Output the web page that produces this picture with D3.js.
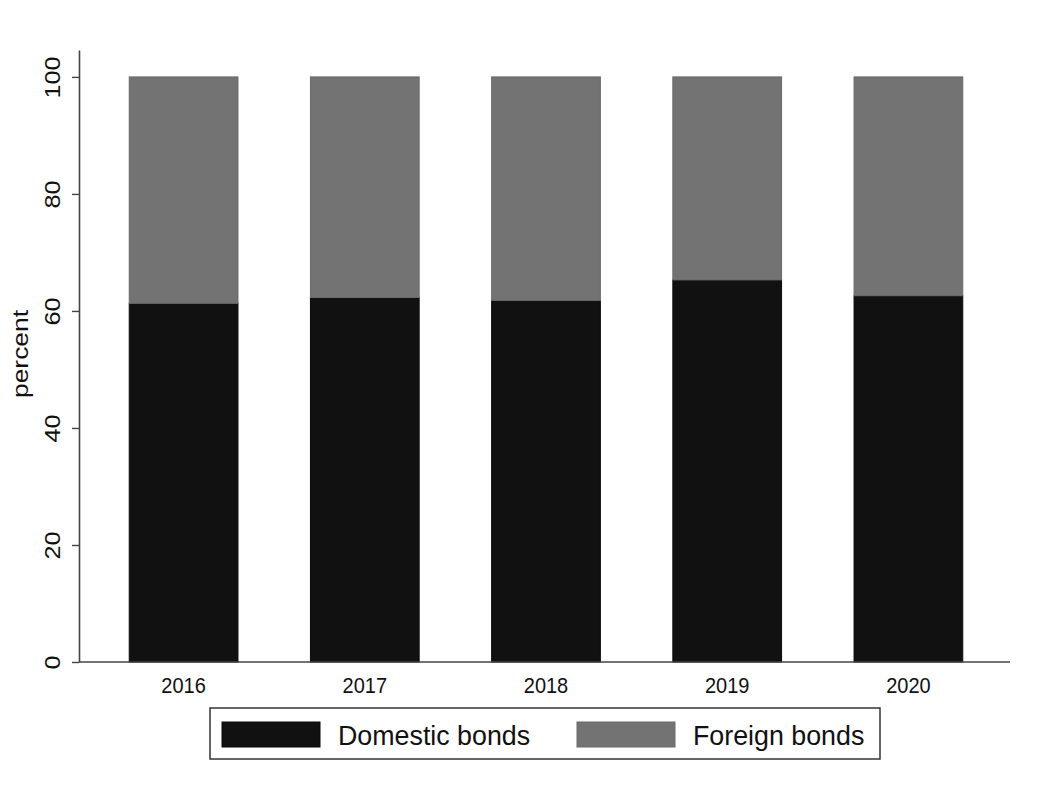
<!DOCTYPE html>
<html>
<head>
<meta charset="utf-8">
<script src="https://cdn.jsdelivr.net/npm/d3@7"></script>
<style>
  html, body { margin: 0; padding: 0; background: #fff; }
  svg { display: block; font-family: "Liberation Sans", Arial, sans-serif; }
</style>
</head>
<body>
<svg id="chart" width="1038" height="799"></svg>
<script>
const years = ["2016", "2017", "2018", "2019", "2020"];
const domestic = [61.3, 62.3, 61.8, 65.3, 62.6];
const foreign = domestic.map(d => +(100 - d).toFixed(1));
const seriesNames = ["Domestic bonds", "Foreign bonds"];
const seriesColors = ["#111111", "#737373"];
const yTicks = [0, 20, 40, 60, 80, 100];

const svg = d3.select("#chart");
svg.append("rect").attr("width", 1038).attr("height", 799).attr("fill", "#fff");

const x = d3.scaleBand().domain(years).range([93, 999]).paddingInner(0.4).paddingOuter(0.2);
const y = d3.scaleLinear().domain([0, 104.6]).range([662, 50]);

const rows = years.map((yr, i) => ({ year: yr, domestic: domestic[i], foreign: foreign[i] }));
const stack = d3.stack().keys(["domestic", "foreign"])(rows);
const strokes = ["#0b0b0b", "#6a6a6a"];

svg.selectAll("g.series").data(stack).join("g")
  .attr("class", "series")
  .attr("fill", (d, i) => seriesColors[i])
  .attr("stroke", (d, i) => strokes[i])
  .attr("stroke-width", 1)
  .selectAll("rect").data(d => d).join("rect")
  .attr("x", d => x(d.data.year))
  .attr("width", x.bandwidth())
  .attr("y", d => y(d[1]))
  .attr("height", d => y(d[0]) - y(d[1]));

// Y axis
const yAxis = svg.append("g").attr("transform", "translate(79,0)")
  .call(d3.axisLeft(y).tickValues(yTicks).tickSize(7).tickSizeOuter(0).tickPadding(0));
yAxis.select(".domain").attr("stroke", "#444").attr("stroke-width", 1.6);
yAxis.selectAll(".tick line").attr("stroke", "#444").attr("stroke-width", 1.4);
yAxis.selectAll(".tick text")
  .attr("fill", "#111")
  .attr("font-size", 22)
  .attr("text-anchor", "middle")
  .attr("x", null).attr("dy", null)
  .attr("transform", "translate(-19,0) rotate(-90) scale(1.15,1)");

// X axis
const xAxis = svg.append("g").attr("transform", "translate(0,662)")
  .call(d3.axisBottom(x).tickSize(0).tickSizeOuter(0).tickPadding(0));
xAxis.select(".domain").attr("d", "M79,0H1010").attr("stroke", "#444").attr("stroke-width", 1.6);
xAxis.selectAll(".tick text")
  .attr("fill", "#111")
  .attr("font-size", 20)
  .attr("y", 0).attr("dy", null)
  .attr("transform", "translate(0,31) scale(1,1.1)");

// Y title
svg.append("text")
  .attr("transform", "translate(28,354) rotate(-90) scale(1.2,1)")
  .attr("text-anchor", "middle")
  .attr("font-size", 22)
  .attr("fill", "#111")
  .text("percent");

// Legend
const lg = svg.append("g");
lg.append("rect").attr("x", 210).attr("y", 708).attr("width", 670).attr("height", 51)
  .attr("fill", "#fff").attr("stroke", "#333").attr("stroke-width", 1.5);
const swX = [222, 577];
const txX = [338, 693];
seriesNames.forEach((name, i) => {
  lg.append("rect").attr("x", swX[i]).attr("y", 722).attr("width", 98).attr("height", 25)
    .attr("fill", seriesColors[i]).attr("stroke", strokes[i]);
  lg.append("text").attr("x", txX[i]).attr("y", 745)
    .attr("font-size", 26.8).attr("fill", "#111").text(name);
});
</script>
</body>
</html>
